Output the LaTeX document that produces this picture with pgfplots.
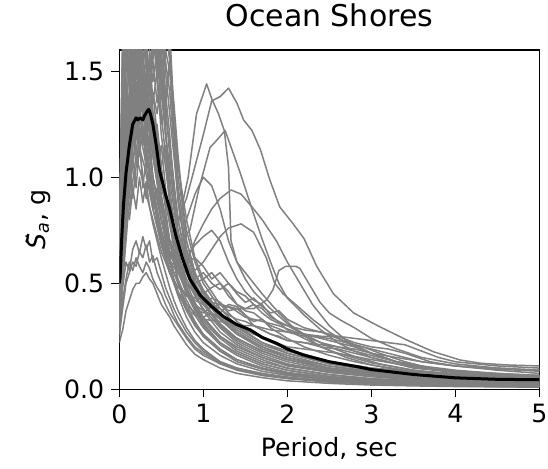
\documentclass[border=0pt]{standalone}
\usepackage{fontspec}
\setmainfont{DejaVu Sans}
\usepackage{pgfplots}
\pgfplotsset{compat=1.18}
\definecolor{mygray}{RGB}{128,128,128}
\pgfplotsset{gc/.style={color=mygray, line width=0.75pt, no markers, line join=round}}
\begin{document}
\begin{tikzpicture}
\useasboundingbox (-59.65pt,-39.85pt) rectangle (214.35pt,194.65pt);
\begin{axis}[
 at={(0,0)}, anchor=south west,
 width=210pt, height=169.65pt, scale only axis,
 xmin=0, xmax=5, ymin=0, ymax=1.6,
 xtick={0,1,2,3,4,5}, ytick={0,0.5,1,1.5},
 yticklabel style={/pgf/number format/fixed, /pgf/number format/fixed zerofill, /pgf/number format/precision=1},
 /pgf/number format/assume math mode=true,
 tick align=outside, major tick length=4pt, tick pos=left,
 tick style={black, line width=0.65pt},
 axis line style={line width=0.65pt},
 ticklabel style={font=\fontsize{12.6}{14}\selectfont},
 label style={font=\fontsize{12.6}{14}\selectfont},
 title style={font=\fontsize{15}{18}\selectfont, yshift=2pt},
 title={Ocean Shores},
 xlabel={Period, sec},
 ylabel={\~{\textit{S}}\textsubscript{\textit{a}}, g},
]
% short-period dominated records
\addplot[gc] coordinates {(0,0.45)(0.04,1.1)(0.08,1.5)(0.12,1.9)(0.16,1.7)(0.2,2.1)(0.24,1.8)(0.28,2.3)(0.32,1.9)(0.36,1.7)(0.4,2.0)(0.45,1.6)(0.5,1.3)(0.55,1.1)(0.6,0.9)(0.65,0.75)(0.7,0.62)(0.8,0.48)(0.9,0.38)(1,0.31)(1.2,0.22)(1.4,0.17)(1.7,0.12)(2,0.09)(2.5,0.06)(3,0.045)(3.5,0.035)(4,0.028)(5,0.02)};
\addplot[gc] coordinates {(0,0.6)(0.04,1.4)(0.08,1.8)(0.12,1.6)(0.16,2.2)(0.2,1.9)(0.24,2.4)(0.28,2.0)(0.32,1.7)(0.36,2.1)(0.4,1.8)(0.45,1.5)(0.5,1.7)(0.55,1.4)(0.6,1.2)(0.65,0.95)(0.7,0.8)(0.8,0.6)(0.9,0.5)(1,0.42)(1.2,0.3)(1.4,0.24)(1.7,0.18)(2,0.14)(2.5,0.1)(3,0.075)(3.5,0.06)(4,0.05)(5,0.04)};
\addplot[gc] coordinates {(0,0.35)(0.04,0.8)(0.08,1.1)(0.12,1.3)(0.16,1.2)(0.2,1.45)(0.24,1.3)(0.28,1.6)(0.32,1.4)(0.36,1.55)(0.4,1.3)(0.45,1.2)(0.5,1.0)(0.55,0.85)(0.6,0.7)(0.65,0.6)(0.7,0.52)(0.8,0.42)(0.9,0.35)(1,0.29)(1.2,0.21)(1.4,0.16)(1.7,0.11)(2,0.08)(2.5,0.055)(3,0.04)(3.5,0.03)(4,0.025)(5,0.018)};
\addplot[gc] coordinates {(0,0.7)(0.04,1.6)(0.08,2.0)(0.12,2.5)(0.16,2.2)(0.2,1.9)(0.24,2.3)(0.28,2.6)(0.32,2.1)(0.36,1.8)(0.4,1.9)(0.45,1.7)(0.5,1.5)(0.55,1.6)(0.6,1.7)(0.65,1.3)(0.7,1.0)(0.8,0.75)(0.9,0.6)(1,0.5)(1.2,0.38)(1.4,0.3)(1.7,0.22)(2,0.17)(2.5,0.12)(3,0.09)(3.5,0.07)(4,0.06)(5,0.05)};
\addplot[gc] coordinates {(0,0.5)(0.04,1.2)(0.08,1.7)(0.12,1.4)(0.16,1.8)(0.2,1.5)(0.24,1.35)(0.28,1.7)(0.32,1.5)(0.36,1.25)(0.4,1.4)(0.45,1.3)(0.5,1.45)(0.55,1.2)(0.6,1.0)(0.65,0.85)(0.7,0.7)(0.8,0.55)(0.9,0.46)(1,0.4)(1.2,0.3)(1.4,0.23)(1.7,0.17)(2,0.13)(2.5,0.09)(3,0.065)(3.5,0.05)(4,0.04)(5,0.03)};
\addplot[gc] coordinates {(0,0.4)(0.04,0.95)(0.08,1.25)(0.12,1.0)(0.16,1.15)(0.2,1.35)(0.24,1.1)(0.28,1.25)(0.32,1.05)(0.36,1.2)(0.4,1.0)(0.45,0.9)(0.5,0.8)(0.55,0.72)(0.6,0.62)(0.65,0.55)(0.7,0.5)(0.8,0.4)(0.9,0.32)(1,0.26)(1.2,0.19)(1.4,0.14)(1.7,0.1)(2,0.075)(2.5,0.05)(3,0.035)(3.5,0.027)(4,0.022)(5,0.015)};
\addplot[gc] coordinates {(0,0.55)(0.04,1.3)(0.08,1.6)(0.12,2.0)(0.16,1.75)(0.2,1.5)(0.24,1.9)(0.28,1.65)(0.32,2.2)(0.36,1.85)(0.4,1.55)(0.45,1.8)(0.5,1.6)(0.55,1.35)(0.6,1.55)(0.65,1.25)(0.7,0.95)(0.8,0.7)(0.9,0.55)(1,0.46)(1.2,0.33)(1.4,0.26)(1.7,0.19)(2,0.15)(2.5,0.1)(3,0.08)(3.5,0.065)(4,0.055)(5,0.045)};
\addplot[gc] coordinates {(0,0.3)(0.04,0.7)(0.08,0.95)(0.12,1.1)(0.16,0.9)(0.2,1.05)(0.24,1.2)(0.28,0.95)(0.32,1.1)(0.36,1.0)(0.4,0.85)(0.45,0.95)(0.5,0.8)(0.55,0.7)(0.6,0.6)(0.65,0.52)(0.7,0.46)(0.8,0.37)(0.9,0.3)(1,0.25)(1.2,0.18)(1.4,0.14)(1.7,0.1)(2,0.075)(2.5,0.05)(3,0.038)(3.5,0.03)(4,0.025)(5,0.02)};
\addplot[gc] coordinates {(0,0.65)(0.04,1.5)(0.08,1.9)(0.12,1.55)(0.16,2.0)(0.2,2.4)(0.24,1.8)(0.28,2.1)(0.32,1.75)(0.36,2.3)(0.4,1.9)(0.45,2.0)(0.5,1.7)(0.55,1.5)(0.6,1.3)(0.65,1.1)(0.7,0.9)(0.8,0.65)(0.9,0.52)(1,0.45)(1.2,0.34)(1.4,0.27)(1.7,0.2)(2,0.16)(2.5,0.11)(3,0.085)(3.5,0.07)(4,0.06)(5,0.05)};
\addplot[gc] coordinates {(0,0.45)(0.04,1.05)(0.08,1.4)(0.12,1.2)(0.16,1.55)(0.2,1.3)(0.24,1.6)(0.28,1.35)(0.32,1.15)(0.36,1.45)(0.4,1.2)(0.45,1.05)(0.5,1.15)(0.55,0.95)(0.6,0.82)(0.65,0.7)(0.7,0.6)(0.8,0.47)(0.9,0.4)(1,0.33)(1.2,0.25)(1.4,0.2)(1.7,0.15)(2,0.11)(2.5,0.08)(3,0.06)(3.5,0.045)(4,0.038)(5,0.03)};
\addplot[gc] coordinates {(0,0.5)(0.04,1.15)(0.08,1.35)(0.12,1.75)(0.16,1.45)(0.2,1.65)(0.24,1.4)(0.28,1.85)(0.32,1.6)(0.36,1.4)(0.4,1.7)(0.45,1.45)(0.5,1.25)(0.55,1.35)(0.6,1.1)(0.65,0.9)(0.7,0.75)(0.8,0.58)(0.9,0.48)(1,0.4)(1.2,0.3)(1.4,0.24)(1.7,0.18)(2,0.14)(2.5,0.1)(3,0.075)(3.5,0.06)(4,0.05)(5,0.04)};
\addplot[gc] coordinates {(0,0.38)(0.04,0.85)(0.08,1.2)(0.12,1.4)(0.16,1.25)(0.2,1.1)(0.24,1.3)(0.28,1.45)(0.32,1.2)(0.36,1.35)(0.4,1.15)(0.45,1.25)(0.5,1.05)(0.55,0.9)(0.6,0.78)(0.65,0.66)(0.7,0.56)(0.8,0.45)(0.9,0.37)(1,0.3)(1.2,0.22)(1.4,0.17)(1.7,0.12)(2,0.09)(2.5,0.06)(3,0.045)(3.5,0.035)(4,0.028)(5,0.02)};
\addplot[gc] coordinates {(0,0.75)(0.04,1.7)(0.08,2.3)(0.12,2.0)(0.16,2.6)(0.2,2.2)(0.24,2.0)(0.28,2.4)(0.32,2.5)(0.36,2.0)(0.4,2.2)(0.45,1.9)(0.5,1.75)(0.55,1.85)(0.6,1.6)(0.65,1.25)(0.7,1.05)(0.8,0.8)(0.9,0.62)(1,0.52)(1.2,0.4)(1.4,0.32)(1.7,0.24)(2,0.19)(2.5,0.13)(3,0.1)(3.5,0.08)(4,0.07)(5,0.06)};
\addplot[gc] coordinates {(0,0.42)(0.04,1.0)(0.08,1.3)(0.12,1.55)(0.16,1.35)(0.2,1.6)(0.24,1.3)(0.28,1.5)(0.32,1.7)(0.36,1.4)(0.4,1.55)(0.45,1.35)(0.5,1.5)(0.55,1.25)(0.6,0.95)(0.65,0.78)(0.7,0.65)(0.8,0.5)(0.9,0.41)(1,0.34)(1.2,0.25)(1.4,0.19)(1.7,0.14)(2,0.1)(2.5,0.07)(3,0.05)(3.5,0.04)(4,0.032)(5,0.024)};
\addplot[gc] coordinates {(0,0.33)(0.04,0.75)(0.08,1.0)(0.12,0.9)(0.16,1.1)(0.2,0.95)(0.24,1.15)(0.28,1.0)(0.32,0.9)(0.36,1.05)(0.4,0.95)(0.45,0.82)(0.5,0.72)(0.55,0.64)(0.6,0.57)(0.65,0.5)(0.7,0.44)(0.8,0.34)(0.9,0.27)(1,0.22)(1.2,0.16)(1.4,0.12)(1.7,0.085)(2,0.065)(2.5,0.045)(3,0.033)(3.5,0.026)(4,0.021)(5,0.015)};
\addplot[gc] coordinates {(0,0.58)(0.04,1.35)(0.08,1.85)(0.12,2.1)(0.16,1.8)(0.2,2.05)(0.24,2.3)(0.28,1.95)(0.32,1.7)(0.36,2.05)(0.4,1.75)(0.45,1.6)(0.5,1.8)(0.55,1.55)(0.6,1.4)(0.65,1.15)(0.7,0.88)(0.8,0.62)(0.9,0.5)(1,0.43)(1.2,0.33)(1.4,0.26)(1.7,0.2)(2,0.15)(2.5,0.11)(3,0.08)(3.5,0.065)(4,0.055)(5,0.045)};
\addplot[gc] coordinates {(0,0.48)(0.04,1.1)(0.08,1.45)(0.12,1.25)(0.16,1.6)(0.2,1.4)(0.24,1.2)(0.28,1.5)(0.32,1.3)(0.36,1.6)(0.4,1.35)(0.45,1.5)(0.5,1.2)(0.55,1.05)(0.6,0.88)(0.65,0.74)(0.7,0.64)(0.8,0.52)(0.9,0.44)(1,0.38)(1.2,0.29)(1.4,0.22)(1.7,0.16)(2,0.12)(2.5,0.085)(3,0.065)(3.5,0.05)(4,0.042)(5,0.034)};
\addplot[gc] coordinates {(0,0.62)(0.04,1.45)(0.08,1.75)(0.12,2.2)(0.16,1.9)(0.2,1.6)(0.24,2.0)(0.28,1.8)(0.32,2.1)(0.36,1.7)(0.4,1.95)(0.45,1.65)(0.5,1.45)(0.55,1.6)(0.6,1.5)(0.65,1.2)(0.7,0.9)(0.8,0.66)(0.9,0.54)(1,0.46)(1.2,0.35)(1.4,0.28)(1.7,0.21)(2,0.17)(2.5,0.12)(3,0.09)(3.5,0.072)(4,0.062)(5,0.052)};
\addplot[gc] coordinates {(0,0.36)(0.04,0.8)(0.08,1.05)(0.12,1.25)(0.16,1.05)(0.2,1.2)(0.24,1.35)(0.28,1.15)(0.32,1.3)(0.36,1.1)(0.4,1.25)(0.45,1.05)(0.5,0.92)(0.55,0.8)(0.6,0.7)(0.65,0.6)(0.7,0.5)(0.8,0.38)(0.9,0.31)(1,0.25)(1.2,0.18)(1.4,0.13)(1.7,0.095)(2,0.07)(2.5,0.048)(3,0.035)(3.5,0.028)(4,0.022)(5,0.016)};
\addplot[gc] coordinates {(0,0.52)(0.04,1.25)(0.08,1.65)(0.12,1.5)(0.16,1.9)(0.2,1.7)(0.24,1.45)(0.28,1.75)(0.32,1.9)(0.36,1.6)(0.4,1.45)(0.45,1.6)(0.5,1.4)(0.55,1.2)(0.6,1.05)(0.65,0.9)(0.7,0.72)(0.8,0.55)(0.9,0.45)(1,0.37)(1.2,0.27)(1.4,0.21)(1.7,0.15)(2,0.115)(2.5,0.08)(3,0.06)(3.5,0.047)(4,0.039)(5,0.03)};
\addplot[gc] coordinates {(0,0.28)(0.04,0.65)(0.08,0.9)(0.12,0.8)(0.16,0.95)(0.2,0.85)(0.24,1.0)(0.28,0.88)(0.32,0.98)(0.36,0.86)(0.4,0.78)(0.45,0.7)(0.5,0.62)(0.55,0.55)(0.6,0.48)(0.65,0.42)(0.7,0.37)(0.8,0.29)(0.9,0.23)(1,0.19)(1.2,0.13)(1.4,0.1)(1.7,0.07)(2,0.053)(2.5,0.037)(3,0.027)(3.5,0.021)(4,0.017)(5,0.012)};
\addplot[gc] coordinates {(0,0.68)(0.04,1.55)(0.08,2.1)(0.12,1.8)(0.16,2.35)(0.2,2.0)(0.24,2.2)(0.28,1.9)(0.32,2.3)(0.36,2.05)(0.4,2.4)(0.45,2.1)(0.5,1.9)(0.55,1.7)(0.6,1.55)(0.65,1.35)(0.7,1.1)(0.8,0.7)(0.9,0.55)(1,0.47)(1.2,0.36)(1.4,0.29)(1.7,0.22)(2,0.18)(2.5,0.13)(3,0.1)(3.5,0.085)(4,0.075)(5,0.065)};
\addplot[gc] coordinates {(0,0.44)(0.04,1.0)(0.08,1.35)(0.12,1.15)(0.16,1.4)(0.2,1.2)(0.24,1.5)(0.28,1.3)(0.32,1.45)(0.36,1.25)(0.4,1.4)(0.45,1.2)(0.5,1.05)(0.55,1.15)(0.6,0.92)(0.65,0.75)(0.7,0.62)(0.8,0.48)(0.9,0.39)(1,0.32)(1.2,0.24)(1.4,0.18)(1.7,0.13)(2,0.1)(2.5,0.068)(3,0.05)(3.5,0.04)(4,0.033)(5,0.025)};
\addplot[gc] coordinates {(0,0.56)(0.04,1.3)(0.08,1.55)(0.12,1.95)(0.16,1.65)(0.2,1.8)(0.24,2.1)(0.28,1.7)(0.32,1.55)(0.36,1.85)(0.4,1.6)(0.45,1.75)(0.5,1.55)(0.55,1.3)(0.6,1.15)(0.65,0.98)(0.7,0.8)(0.8,0.6)(0.9,0.48)(1,0.41)(1.2,0.31)(1.4,0.24)(1.7,0.18)(2,0.14)(2.5,0.095)(3,0.07)(3.5,0.056)(4,0.047)(5,0.038)};
% low records
\addplot[gc] coordinates {(0,0.22)(0.04,0.28)(0.08,0.37)(0.12,0.42)(0.16,0.47)(0.2,0.5)(0.24,0.5)(0.28,0.53)(0.32,0.55)(0.36,0.52)(0.4,0.5)(0.45,0.45)(0.5,0.4)(0.55,0.37)(0.6,0.34)(0.65,0.3)(0.7,0.27)(0.8,0.21)(0.9,0.165)(1,0.14)(1.2,0.1)(1.4,0.075)(1.7,0.055)(2,0.04)(2.5,0.028)(3,0.02)(3.5,0.016)(4,0.013)(5,0.01)};
\addplot[gc] coordinates {(0,0.26)(0.04,0.38)(0.08,0.5)(0.12,0.55)(0.16,0.6)(0.2,0.58)(0.24,0.65)(0.28,0.62)(0.32,0.68)(0.36,0.6)(0.4,0.63)(0.45,0.55)(0.5,0.5)(0.55,0.44)(0.6,0.4)(0.65,0.35)(0.7,0.31)(0.8,0.25)(0.9,0.2)(1,0.17)(1.2,0.125)(1.4,0.095)(1.7,0.07)(2,0.053)(2.5,0.036)(3,0.027)(3.5,0.021)(4,0.017)(5,0.012)};
\addplot[gc] coordinates {(0,0.32)(0.04,0.48)(0.08,0.6)(0.12,0.56)(0.16,0.66)(0.2,0.7)(0.24,0.64)(0.28,0.72)(0.32,0.66)(0.36,0.7)(0.4,0.6)(0.45,0.62)(0.5,0.55)(0.55,0.48)(0.6,0.43)(0.65,0.38)(0.7,0.34)(0.8,0.27)(0.9,0.22)(1,0.18)(1.2,0.13)(1.4,0.1)(1.7,0.075)(2,0.058)(2.5,0.04)(3,0.03)(3.5,0.024)(4,0.019)(5,0.014)};
\addplot[gc] coordinates {(0,0.24)(0.04,0.42)(0.08,0.52)(0.12,0.6)(0.16,0.56)(0.2,0.62)(0.24,0.58)(0.28,0.55)(0.32,0.6)(0.36,0.57)(0.4,0.52)(0.45,0.48)(0.5,0.45)(0.55,0.4)(0.6,0.36)(0.65,0.33)(0.7,0.3)(0.8,0.24)(0.9,0.19)(1,0.16)(1.2,0.12)(1.4,0.09)(1.7,0.065)(2,0.05)(2.5,0.034)(3,0.025)(3.5,0.019)(4,0.015)(5,0.011)};
% long-period records
\addplot[gc] coordinates {(0,0.45)(0.1,1.3)(0.2,1.75)(0.3,1.5)(0.4,1.25)(0.5,0.95)(0.6,0.82)(0.7,0.78)(0.82,1.0)(0.92,1.3)(1.04,1.44)(1.1,1.37)(1.18,1.3)(1.25,1.22)(1.3,1.05)(1.33,0.7)(1.4,0.6)(1.5,0.55)(1.7,0.45)(1.9,0.36)(2.1,0.28)(2.4,0.2)(2.7,0.15)(3,0.115)(3.4,0.09)(4,0.07)(4.5,0.06)(5,0.055)};
\addplot[gc] coordinates {(0,0.5)(0.1,1.2)(0.2,1.5)(0.3,1.7)(0.4,1.3)(0.5,1.0)(0.6,0.85)(0.7,0.8)(0.8,0.9)(0.9,1.05)(1.0,1.2)(1.1,1.36)(1.2,1.38)(1.3,1.42)(1.4,1.35)(1.48,1.27)(1.58,1.22)(1.68,1.13)(1.79,0.99)(1.91,0.86)(2.07,0.78)(2.2,0.71)(2.35,0.58)(2.55,0.45)(2.79,0.36)(3.1,0.295)(3.42,0.233)(3.74,0.177)(4.06,0.138)(4.3,0.123)(4.6,0.115)(5,0.11)};
\addplot[gc] coordinates {(0,0.4)(0.1,1.1)(0.2,1.6)(0.3,1.3)(0.4,1.0)(0.5,0.8)(0.6,0.7)(0.7,0.68)(0.84,0.75)(0.95,0.95)(1.08,1.14)(1.15,1.17)(1.26,1.22)(1.35,1.12)(1.44,1.02)(1.58,0.85)(1.69,0.72)(1.8,0.6)(1.9,0.5)(2.0,0.43)(2.2,0.35)(2.4,0.28)(2.6,0.22)(2.8,0.18)(3.0,0.15)(3.5,0.1)(4,0.08)(4.5,0.068)(5,0.06)};
\addplot[gc] coordinates {(0,0.35)(0.1,0.95)(0.2,1.35)(0.3,1.2)(0.4,0.95)(0.5,0.75)(0.6,0.6)(0.7,0.55)(0.8,0.6)(0.9,0.7)(1.0,0.78)(1.1,0.85)(1.2,0.9)(1.33,0.94)(1.45,0.92)(1.58,0.86)(1.7,0.8)(1.87,0.7)(2.0,0.6)(2.15,0.5)(2.3,0.4)(2.5,0.3)(2.7,0.23)(3.0,0.17)(3.3,0.13)(3.7,0.1)(4.2,0.08)(5,0.065)};
\addplot[gc] coordinates {(0,0.42)(0.1,1.0)(0.2,1.45)(0.3,1.25)(0.4,1.0)(0.5,0.8)(0.6,0.65)(0.7,0.6)(0.8,0.55)(0.9,0.56)(1.0,0.6)(1.1,0.66)(1.2,0.72)(1.3,0.76)(1.45,0.78)(1.6,0.74)(1.75,0.62)(1.85,0.5)(1.95,0.45)(2.1,0.4)(2.3,0.33)(2.5,0.27)(2.7,0.22)(3.0,0.17)(3.3,0.13)(3.6,0.105)(4.0,0.085)(4.5,0.07)(5,0.06)};
\addplot[gc] coordinates {(0,0.3)(0.1,0.8)(0.2,1.1)(0.3,0.95)(0.4,0.8)(0.5,0.65)(0.6,0.55)(0.7,0.48)(0.8,0.45)(0.9,0.43)(1.0,0.42)(1.2,0.4)(1.4,0.38)(1.6,0.38)(1.75,0.42)(1.83,0.47)(1.9,0.56)(1.98,0.58)(2.1,0.58)(2.15,0.57)(2.23,0.516)(2.39,0.41)(2.5,0.36)(2.63,0.327)(2.8,0.29)(3.0,0.24)(3.3,0.19)(3.6,0.15)(4.0,0.12)(4.5,0.1)(5,0.09)};
\addplot[gc] coordinates {(0,0.38)(0.1,1.0)(0.2,1.4)(0.3,1.2)(0.4,0.92)(0.5,0.72)(0.6,0.62)(0.7,0.66)(0.8,0.8)(0.9,0.92)(1.0,1.0)(1.1,0.96)(1.2,0.85)(1.3,0.7)(1.4,0.6)(1.5,0.52)(1.6,0.46)(1.8,0.38)(2.0,0.31)(2.2,0.26)(2.5,0.2)(2.8,0.155)(3.1,0.12)(3.5,0.09)(4,0.07)(4.5,0.058)(5,0.05)};
\addplot[gc] coordinates {(0,0.36)(0.1,0.9)(0.2,1.3)(0.3,1.1)(0.4,0.85)(0.5,0.7)(0.6,0.6)(0.7,0.58)(0.8,0.62)(0.9,0.68)(1.0,0.72)(1.1,0.75)(1.2,0.7)(1.3,0.6)(1.4,0.52)(1.5,0.46)(1.6,0.42)(1.7,0.4)(1.8,0.35)(2.0,0.28)(2.2,0.24)(2.4,0.2)(2.6,0.17)(3.0,0.125)(3.5,0.09)(4,0.07)(4.5,0.058)(5,0.05)};
% intermediate records
\addplot[gc] coordinates {(0,0.4)(0.1,1.1)(0.2,1.5)(0.3,1.35)(0.4,1.1)(0.5,0.85)(0.6,0.65)(0.7,0.55)(0.8,0.5)(0.9,0.47)(1.0,0.45)(1.1,0.48)(1.2,0.5)(1.3,0.46)(1.4,0.4)(1.5,0.37)(1.6,0.36)(1.7,0.33)(1.8,0.29)(2.0,0.24)(2.2,0.2)(2.5,0.16)(2.8,0.13)(3.2,0.1)(3.6,0.08)(4,0.065)(4.5,0.055)(5,0.048)};
\addplot[gc] coordinates {(0,0.46)(0.1,1.25)(0.2,1.7)(0.3,1.5)(0.4,1.2)(0.5,0.9)(0.6,0.7)(0.7,0.58)(0.8,0.45)(0.9,0.38)(1.0,0.36)(1.1,0.39)(1.2,0.4)(1.35,0.38)(1.5,0.34)(1.7,0.32)(1.9,0.3)(2.1,0.27)(2.3,0.25)(2.5,0.24)(2.7,0.22)(2.9,0.2)(3.1,0.17)(3.4,0.13)(3.7,0.1)(4,0.085)(4.5,0.07)(5,0.06)};
\addplot[gc] coordinates {(0,0.34)(0.1,0.85)(0.2,1.2)(0.3,1.05)(0.4,0.85)(0.5,0.68)(0.6,0.55)(0.7,0.46)(0.8,0.4)(0.9,0.36)(1.0,0.34)(1.1,0.36)(1.2,0.33)(1.3,0.3)(1.4,0.31)(1.5,0.28)(1.6,0.26)(1.8,0.23)(2.0,0.2)(2.2,0.19)(2.4,0.18)(2.6,0.17)(2.8,0.155)(3.0,0.14)(3.3,0.12)(3.6,0.1)(4,0.08)(4.5,0.068)(5,0.06)};
\addplot[gc] coordinates {(0,0.5)(0.1,1.3)(0.2,1.8)(0.3,1.6)(0.4,1.3)(0.5,1.0)(0.6,0.78)(0.7,0.62)(0.8,0.55)(0.9,0.5)(1.0,0.52)(1.1,0.55)(1.2,0.5)(1.3,0.44)(1.4,0.4)(1.5,0.38)(1.6,0.4)(1.7,0.38)(1.8,0.34)(2.0,0.3)(2.2,0.26)(2.4,0.24)(2.6,0.22)(2.8,0.2)(3.0,0.17)(3.3,0.13)(3.6,0.1)(4,0.08)(4.5,0.065)(5,0.055)};
\addplot[gc] coordinates {(0,0.37)(0.1,0.9)(0.2,1.3)(0.3,1.15)(0.4,0.9)(0.5,0.7)(0.6,0.55)(0.7,0.45)(0.8,0.38)(0.9,0.35)(1.0,0.33)(1.2,0.32)(1.4,0.3)(1.6,0.3)(1.8,0.28)(2.0,0.27)(2.2,0.26)(2.4,0.25)(2.6,0.25)(2.8,0.24)(3.0,0.23)(3.2,0.22)(3.4,0.21)(3.6,0.18)(3.8,0.15)(4.0,0.13)(4.5,0.11)(5,0.1)};
\addplot[gc] coordinates {(0,0.44)(0.1,1.15)(0.2,1.6)(0.3,1.4)(0.4,1.15)(0.5,0.9)(0.6,0.7)(0.7,0.55)(0.8,0.46)(0.9,0.4)(1.0,0.37)(1.1,0.35)(1.2,0.36)(1.3,0.4)(1.4,0.39)(1.5,0.35)(1.6,0.3)(1.8,0.26)(2.0,0.23)(2.2,0.22)(2.4,0.21)(2.6,0.2)(2.8,0.19)(3.0,0.17)(3.3,0.15)(3.6,0.13)(4,0.11)(4.5,0.1)(5,0.09)};
\addplot[gc] coordinates {(0,0.42)(0.1,1.2)(0.2,1.55)(0.3,1.4)(0.4,1.1)(0.5,0.85)(0.6,0.68)(0.7,0.6)(0.8,0.55)(0.9,0.52)(1.0,0.55)(1.1,0.5)(1.2,0.47)(1.3,0.5)(1.4,0.45)(1.5,0.41)(1.6,0.43)(1.7,0.39)(1.8,0.36)(1.9,0.37)(2.0,0.33)(2.2,0.29)(2.4,0.27)(2.6,0.24)(2.8,0.21)(3.0,0.19)(3.3,0.16)(3.6,0.13)(4,0.11)(4.5,0.095)(5,0.085)};
\addplot[gc] coordinates {(0,0.38)(0.1,1.0)(0.2,1.35)(0.3,1.2)(0.4,0.95)(0.5,0.75)(0.6,0.6)(0.7,0.5)(0.8,0.44)(0.9,0.42)(1.0,0.4)(1.1,0.43)(1.2,0.41)(1.3,0.37)(1.4,0.38)(1.5,0.35)(1.6,0.32)(1.7,0.33)(1.8,0.3)(2.0,0.27)(2.2,0.25)(2.4,0.22)(2.6,0.2)(2.8,0.18)(3.0,0.16)(3.3,0.13)(3.6,0.11)(4,0.09)(4.5,0.075)(5,0.065)};
\addplot[gc] coordinates {(0,0.47)(0.1,1.3)(0.2,1.65)(0.3,1.45)(0.4,1.15)(0.5,0.88)(0.6,0.7)(0.7,0.62)(0.8,0.6)(0.9,0.62)(1.0,0.58)(1.1,0.52)(1.2,0.55)(1.3,0.5)(1.4,0.46)(1.5,0.44)(1.6,0.4)(1.7,0.36)(1.8,0.33)(1.9,0.31)(2.0,0.3)(2.2,0.28)(2.4,0.27)(2.6,0.25)(2.8,0.22)(3.0,0.2)(3.2,0.19)(3.4,0.17)(3.7,0.13)(4,0.11)(4.5,0.09)(5,0.075)};
\addplot[gc] coordinates {(0,0.4)(0.1,1.05)(0.2,1.45)(0.3,1.3)(0.4,1.0)(0.5,0.8)(0.6,0.64)(0.7,0.55)(0.8,0.5)(0.9,0.45)(1.0,0.43)(1.1,0.4)(1.2,0.38)(1.3,0.35)(1.4,0.33)(1.5,0.32)(1.6,0.3)(1.7,0.28)(1.8,0.26)(1.9,0.25)(2.0,0.23)(2.2,0.22)(2.4,0.2)(2.6,0.19)(2.8,0.17)(3.0,0.15)(3.3,0.12)(3.6,0.1)(4,0.085)(4.5,0.07)(5,0.06)};
% median
\addplot[black, line width=1.5pt, no markers, line join=round] coordinates {(0,0.5)(0.01,0.53)(0.03,0.72)(0.05,0.87)(0.08,1.02)(0.12,1.15)(0.16,1.25)(0.2,1.28)(0.22,1.27)(0.25,1.28)(0.28,1.27)(0.3,1.29)(0.33,1.31)(0.35,1.32)(0.37,1.3)(0.4,1.25)(0.44,1.15)(0.48,1.03)(0.55,0.92)(0.6,0.85)(0.67,0.73)(0.75,0.62)(0.84,0.52)(0.96,0.445)(1.1,0.39)(1.24,0.343)(1.4,0.305)(1.56,0.28)(1.7,0.245)(1.87,0.217)(2.0,0.19)(2.19,0.162)(2.5,0.13)(2.83,0.107)(3.0,0.093)(3.5,0.07)(4.0,0.054)(4.5,0.047)(5.0,0.045)};
\end{axis}
\end{tikzpicture}
\end{document}
